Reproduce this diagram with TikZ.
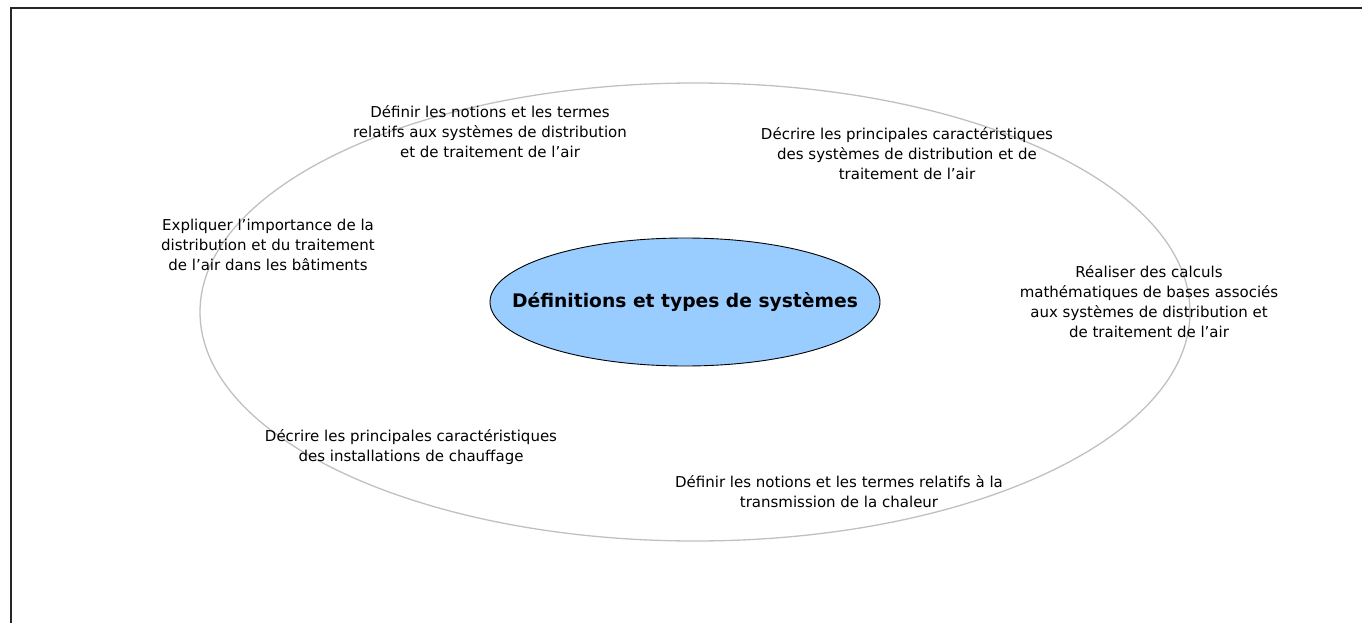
\documentclass[tikz,border=0pt]{standalone}
\usepackage{fontspec}
\setmainfont{DejaVu Sans}
\usetikzlibrary{shapes.geometric}
\definecolor{coreblue}{RGB}{153,204,255}
\definecolor{ringgray}{RGB}{192,192,192}
\begin{document}
\begin{tikzpicture}[x=1pt,y=-1pt,
  lbl/.style={align=center,font=\fontsize{15}{20}\selectfont,inner sep=0pt},
  ring/.style={ellipse,draw=ringgray,line width=1.3pt,inner sep=0pt},
  core/.style={ellipse,draw=black,line width=0.9pt,fill=coreblue,inner sep=0pt},
  coretext/.style={font=\fontsize{18.7}{22}\selectfont\bfseries,inner sep=0pt}]
\useasboundingbox (0,0) rectangle (1362,623);
\draw[line width=2pt,black!85] (11,623) -- (11,8) -- (1362,8);
\node[ring,minimum width=990pt,minimum height=458pt] (outer) at (695,312) {};
\node[core,minimum width=390pt,minimum height=128pt,
      label={[coretext]center:Définitions et types de systèmes}] (center) at (685,302) {};
\node[lbl] (t1) at (490,132) {Définir les notions et les termes\\relatifs aux systèmes de distribution\\et de traitement de l’air};
\node[lbl] (t2) at (907,154) {Décrire les principales caractéristiques\\des systèmes de distribution et de\\traitement de l’air};
\node[lbl] (t3) at (268,245) {Expliquer l’importance de la\\distribution et du traitement\\de l’air dans les bâtiments};
\node[lbl] (t4) at (1149,302) {Réaliser des calculs\\mathématiques de bases associés\\aux systèmes de distribution et\\de traitement de l’air};
\node[lbl] (t5) at (411,447) {Décrire les principales caractéristiques\\des installations de chauffage};
\node[lbl] (t6) at (839,492) {Définir les notions et les termes relatifs à la\\transmission de la chaleur};
\end{tikzpicture}
\end{document}
